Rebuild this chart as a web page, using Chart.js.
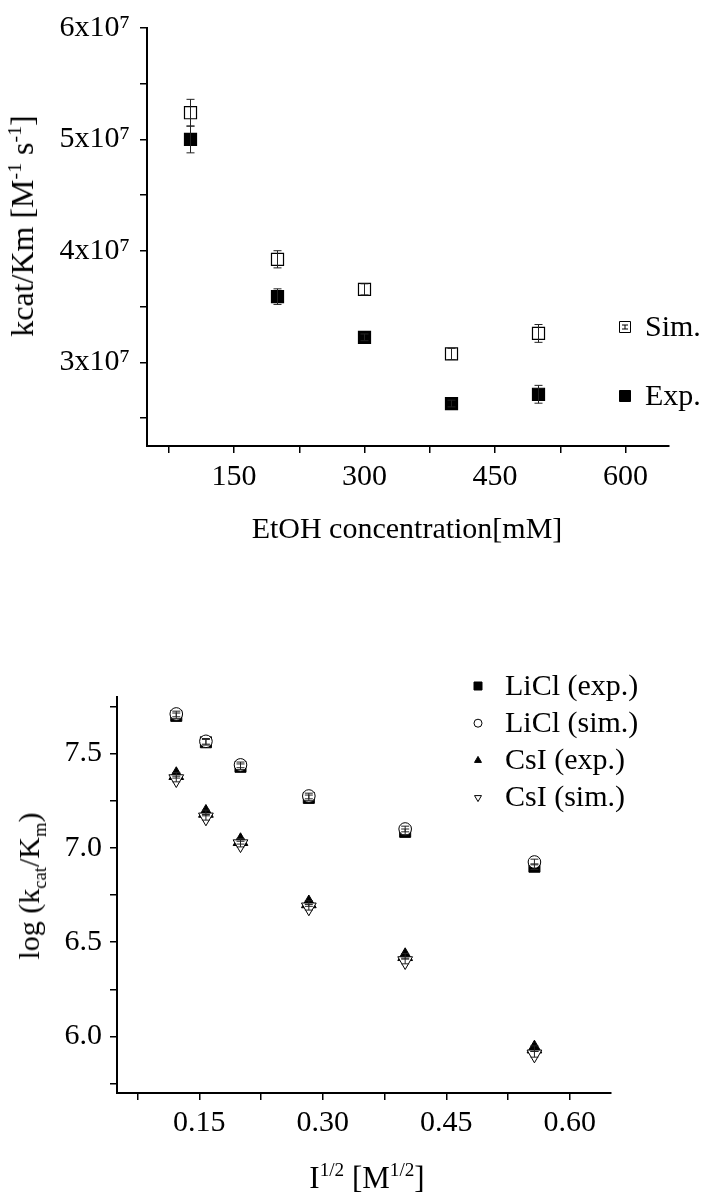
<!DOCTYPE html>
<html>
<head>
<meta charset="utf-8">
<script src="https://cdn.jsdelivr.net/npm/chart.js@4.4.0/dist/chart.umd.min.js"></script>
<style>
  body { margin: 0; background: #fff; width: 714px; height: 1199px; position: relative; overflow: hidden;
         font-family: "Liberation Serif", "Times New Roman", serif; color: #000; }
  canvas { position: absolute; left: 0; }
  #topChart { top: 0; }
  #bottomChart { top: 600px; }
  .ttl { position: absolute; white-space: nowrap; line-height: 1; transform: translate(-50%, -50%); }
  .rot { transform: translate(-50%, -50%) rotate(-90deg); }
  sup, sub { font-size: 62%; line-height: 0; }
</style>
</head>
<body>
<canvas id="topChart" width="714" height="560"></canvas>
<canvas id="bottomChart" width="714" height="599"></canvas>

<div class="ttl rot" style="left:22px; top:226px; font-size:32px;">kcat/Km [M<sup>-1</sup> s<sup>-1</sup>]</div>
<div class="ttl" style="left:407px; top:528px; font-size:30px;">EtOH concentration[mM]</div>
<div class="ttl rot" style="left:29px; top:886px; font-size:30px;">log (k<sub>cat</sub>/K<sub>m</sub>)</div>
<div class="ttl" style="left:367px; top:1177px; font-size:31px;">I<sup>1/2</sup> [M<sup>1/2</sup>]</div>

<script>
// ---- top chart: kcat/Km vs EtOH
const etohConc = [100, 200, 300, 400, 500];
const simValues = [5.24e7, 3.925e7, 3.655e7, 3.076e7, 3.26e7];
const simErrors = [0.12e7, 0.077e7, 0.05e7, 0.05e7, 0.08e7];
const expValues = [5.0e7, 3.59e7, 3.225e7, 2.631e7, 2.714e7];
const expErrors = [0.12e7, 0.07e7, 0.03e7, 0.03e7, 0.08e7];
const topXTicks = [75, 150, 225, 300, 375, 450, 525, 600];
const topYTicks = [2.5e7, 3e7, 3.5e7, 4e7, 4.5e7, 5e7, 5.5e7, 6e7];

// ---- bottom chart: log(kcat/Km) vs I^1/2
const sqrtIonic = [0.122, 0.158, 0.2, 0.283, 0.4, 0.557];
const liclExp = [7.70, 7.56, 7.43, 7.265, 7.085, 6.90];
const liclSim = [7.71, 7.565, 7.44, 7.275, 7.10, 6.925];
const csiExp = [7.385, 7.185, 7.035, 6.705, 6.425, 5.935];
const csiSim = [7.365, 7.162, 7.02, 6.685, 6.40, 5.905];
const logErrors = [0.015, 0.015, 0.015, 0.015, 0.015, 0.015];
const bottomXTicks = [0.075, 0.15, 0.225, 0.3, 0.375, 0.45, 0.525, 0.6];
const bottomYTicks = [5.75, 6, 6.25, 6.5, 6.75, 7, 7.25, 7.5, 7.75];

const FONT = '"Liberation Serif", "Times New Roman", serif';

function pts(xs, ys) {
  return xs.map((x, i) => ({ x: x, y: ys[i] }));
}

// vertical error bars with caps
const errorBars = {
  id: 'errorBars',
  afterDatasetsDraw(chart) {
    const ctx = chart.ctx;
    const ys = chart.scales.y;
    const xs = chart.scales.x;
    ctx.save();
    ctx.strokeStyle = '#222';
    ctx.lineWidth = 1;
    chart.data.datasets.forEach(ds => {
      if (!ds.errors) return;
      ds.data.forEach((p, i) => {
        const x = xs.getPixelForValue(p.x);
        const y1 = ys.getPixelForValue(p.y - ds.errors[i]);
        const y2 = ys.getPixelForValue(p.y + ds.errors[i]);
        ctx.beginPath();
        ctx.moveTo(x, y1); ctx.lineTo(x, y2);
        ctx.moveTo(x - 4, y1); ctx.lineTo(x + 4, y1);
        ctx.moveTo(x - 4, y2); ctx.lineTo(x + 4, y2);
        ctx.stroke();
      });
    });
    ctx.restore();
  }
};

function drawMarker(ctx, style, x, y, r, filled) {
  ctx.beginPath();
  if (style === 'rect') {
    ctx.rect(x - r, y - r, 2 * r, 2 * r);
  } else if (style === 'circle') {
    ctx.arc(x, y, r, 0, Math.PI * 2);
  } else if (style === 'triangle') {
    ctx.moveTo(x, y - r); ctx.lineTo(x + r * 0.87, y + r * 0.5); ctx.lineTo(x - r * 0.87, y + r * 0.5); ctx.closePath();
  } else if (style === 'triangleDown') {
    ctx.moveTo(x, y + r); ctx.lineTo(x + r * 0.87, y - r * 0.5); ctx.lineTo(x - r * 0.87, y - r * 0.5); ctx.closePath();
  }
  ctx.fillStyle = filled ? '#000' : '#fff';
  ctx.fill();
  ctx.strokeStyle = '#000';
  ctx.lineWidth = 1;
  ctx.stroke();
}

// legend drawn inside the plot
const markerLegend = {
  id: 'markerLegend',
  afterDraw(chart, args, opts) {
    const ctx = chart.ctx;
    ctx.save();
    ctx.font = opts.fontSize + 'px ' + FONT;
    ctx.textBaseline = 'middle';
    ctx.textAlign = 'left';
    opts.items.forEach((it, i) => {
      const y = opts.y + i * opts.rowGap;
      drawMarker(ctx, it.style, opts.x, y, opts.size, it.filled);
      if (it.bar) {
        ctx.beginPath();
        ctx.lineWidth = 1;
        ctx.moveTo(opts.x - 3, y - 2); ctx.lineTo(opts.x + 3, y - 2);
        ctx.moveTo(opts.x - 3, y + 2); ctx.lineTo(opts.x + 3, y + 2);
        ctx.moveTo(opts.x, y - 2); ctx.lineTo(opts.x, y + 2);
        ctx.stroke();
      }
      ctx.fillStyle = '#000';
      ctx.fillText(it.label, opts.x + opts.textGap, y + 1);
    });
    ctx.restore();
  }
};

function axisCommon(fontSize) {
  return {
    border: { display: true, color: '#000', width: 2 },
    grid: { display: true, drawOnChartArea: false, drawTicks: true, tickLength: 7, color: '#000', lineWidth: 1.5 },
    ticks: { color: '#000', font: { family: FONT, size: fontSize }, autoSkip: false, maxRotation: 0 }
  };
}

// top chart
const topX = axisCommon(30);
topX.min = 50; topX.max = 650;
topX.afterBuildTicks = s => { s.ticks = topXTicks.map(v => ({ value: v })); };
topX.afterFit = s => { s.height = 114; };
topX.ticks.padding = 6;
topX.ticks.callback = v => (v % 150 === 0 ? String(v) : '');

const topY = axisCommon(30);
topY.min = 2.25e7; topY.max = 6e7;
topY.afterBuildTicks = s => { s.ticks = topYTicks.map(v => ({ value: v })); };
topY.afterFit = s => { s.width = 147; };
topY.ticks.padding = 10;
topY.ticks.callback = v => (v % 1e7 === 0 ? (v / 1e7) + 'x10\u2077' : '');

new Chart(document.getElementById('topChart'), {
  type: 'scatter',
  data: {
    datasets: [
      { label: 'Sim.', data: pts(etohConc, simValues), errors: simErrors, pointStyle: 'rect', pointRadius: 8.5,
        backgroundColor: '#fff', borderColor: '#000', borderWidth: 1.2, order: 1 },
      { label: 'Exp.', data: pts(etohConc, expValues), errors: expErrors, pointStyle: 'rect', pointRadius: 8.5,
        backgroundColor: '#000', borderColor: '#000', borderWidth: 1.2, order: 2 }
    ]
  },
  options: {
    responsive: false,
    animation: false,
    layout: { padding: { top: 25, right: 45, left: 0, bottom: 0 } },
    plugins: {
      legend: { display: false },
      tooltip: { enabled: false },
      markerLegend: {
        x: 625, y: 327, rowGap: 69, size: 5.5, textGap: 20, fontSize: 30,
        items: [{ label: 'Sim.', style: 'rect', filled: false, bar: true }, { label: 'Exp.', style: 'rect', filled: true }]
      }
    },
    scales: { x: topX, y: topY }
  },
  plugins: [errorBars, markerLegend]
});

// bottom chart
const botX = axisCommon(30);
botX.min = 0.05; botX.max = 0.65;
botX.afterBuildTicks = s => { s.ticks = bottomXTicks.map(v => ({ value: v })); };
botX.afterFit = s => { s.height = 106; };
botX.ticks.padding = 5;
botX.ticks.callback = (v, i) => (i % 2 === 1 ? v.toFixed(2) : '');

const botY = axisCommon(30);
botY.min = 5.7; botY.max = 7.8;
botY.afterBuildTicks = s => { s.ticks = bottomYTicks.map(v => ({ value: v })); };
botY.afterFit = s => { s.width = 117; };
botY.ticks.padding = 8;
botY.ticks.callback = (v, i) => (i % 2 === 1 ? v.toFixed(1) : '');

new Chart(document.getElementById('bottomChart'), {
  type: 'scatter',
  data: {
    datasets: [
      { label: 'LiCl (exp.)', data: pts(sqrtIonic, liclExp), errors: logErrors, pointStyle: 'rect', pointRadius: 7.8,
        backgroundColor: '#000', borderColor: '#000', borderWidth: 1, order: 2 },
      { label: 'LiCl (sim.)', data: pts(sqrtIonic, liclSim), errors: logErrors, pointStyle: 'circle', pointRadius: 6.3,
        backgroundColor: '#fff', borderColor: '#000', borderWidth: 1, order: 1 },
      { label: 'CsI (exp.)', data: pts(sqrtIonic, csiExp), errors: logErrors, pointStyle: 'triangle', pointRadius: 8.5,
        backgroundColor: '#000', borderColor: '#000', borderWidth: 1, order: 2 },
      { label: 'CsI (sim.)', data: pts(sqrtIonic, csiSim), errors: logErrors, pointStyle: 'triangle', rotation: 180, pointRadius: 8.5,
        backgroundColor: '#fff', borderColor: '#000', borderWidth: 1, order: 1 }
    ]
  },
  options: {
    responsive: false,
    animation: false,
    layout: { padding: { top: 97, right: 103, left: 0, bottom: 0 } },
    plugins: {
      legend: { display: false },
      tooltip: { enabled: false },
      markerLegend: {
        x: 478, y: 86, rowGap: 37.2, size: 4, textGap: 27, fontSize: 30,
        items: [
          { label: 'LiCl (exp.)', style: 'rect', filled: true },
          { label: 'LiCl (sim.)', style: 'circle', filled: false },
          { label: 'CsI (exp.)', style: 'triangle', filled: true },
          { label: 'CsI (sim.)', style: 'triangleDown', filled: false }
        ]
      }
    },
    scales: { x: botX, y: botY }
  },
  plugins: [errorBars, markerLegend]
});
</script>
</body>
</html>
